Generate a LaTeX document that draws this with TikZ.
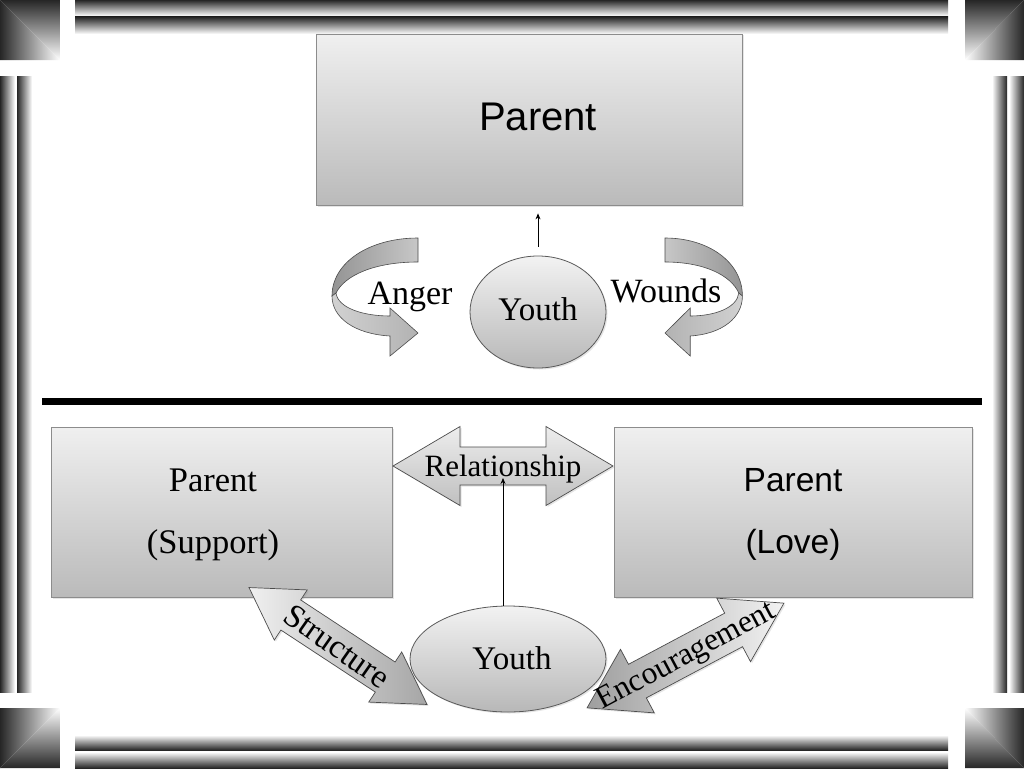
\documentclass[tikz,border=0pt]{standalone}
\usepackage{fontspec}
\setmainfont{Liberation Serif}
\newfontfamily\sansf{Liberation Sans}
\usetikzlibrary{shapes.geometric,shadows,arrows.meta}
\newcommand\uarrow[4]{%
 \path[uband,#3] ({#1},238) .. controls ({#1+#2*48},238) and ({#1+#2*86},262) .. ({#1+#2*86},296) -- ({#1+#2*82},293) .. controls ({#1+#2*73},275) and ({#1+#2*43},262) .. ({#1},262) -- cycle;
 \path[uband,#4] ({#1+#2*82},293) .. controls ({#1+#2*80},308) and ({#1+#2*55},316) .. ({#1+#2*28},316) -- ({#1+#2*28},308) -- ({#1},333) -- ({#1+#2*28},356) -- ({#1+#2*28},336) .. controls ({#1+#2*63},334) and ({#1+#2*86},318) .. ({#1+#2*86},296) -- cycle;}
\newcommand\blockarrow[8]{%
 \begin{scope}[shift={(#1,#2)}, rotate=#3]
 \path[#8] (-#4,0) -- ({-#4+#5},-#6) -- ({-#4+#5},-#7) -- ({#4-#5},-#7) -- ({#4-#5},-#6) -- (#4,0) -- ({#4-#5},#6) -- ({#4-#5},#7) -- ({-#4+#5},#7) -- ({-#4+#5},#6) -- cycle;
 \end{scope}}
\begin{document}
\begin{tikzpicture}[x=1pt,y=-1pt,
  softshadow/.style={drop shadow={opacity=0.2,shadow xshift=1.5pt,shadow yshift=-1.5pt}},
  box/.style={rectangle, draw=black!45, line width=0.8pt, top color=black!6, bottom color=black!27, inner sep=0pt, softshadow},
  ell/.style={ellipse, draw=black!65, line width=0.8pt, top color=black!5, bottom color=black!28, inner sep=0pt, softshadow},
  uband/.style={draw=black!70, line width=0.6pt},
  blockarr/.style={draw=black!70, line width=0.7pt, drop shadow={opacity=0.2,shadow xshift=1.5pt,shadow yshift=-1.5pt}},
  thinarrow/.style={line width=0.8pt, -{Stealth[length=6pt,width=5pt]}},
  serif/.style={font=\fontsize{#1}{#1}\selectfont, inner sep=0pt},
  sans/.style={font=\sansf\fontsize{#1}{#1}\selectfont, inner sep=0pt}
]
\useasboundingbox (0,0) rectangle (1024,768);
\fill[white] (0,0) rectangle (1024,768);
% ---- frame corners ----
\shade[top color=black!85, bottom color=white] (0,0) -- (60,0) -- (60,60) -- cycle;
\shade[left color=black!85, right color=white] (0,0) -- (0,60) -- (60,60) -- cycle;
\shade[top color=black!85, bottom color=white] (965,0) -- (1024,0) -- (965,60) -- cycle;
\shade[left color=white, right color=black!85] (1024,0) -- (1024,60) -- (965,60) -- cycle;
\shade[left color=black!85, right color=white] (0,708) -- (0,768) -- (60,708) -- cycle;
\shade[top color=white, bottom color=black!85] (0,768) -- (60,768) -- (60,708) -- cycle;
\shade[left color=white, right color=black!85] (965,708) -- (1024,708) -- (1024,768) -- cycle;
\shade[top color=white, bottom color=black!85] (965,708) -- (965,768) -- (1024,768) -- cycle;
% ---- frame bars ----
\shade[top color=black!85, bottom color=white] (75,0) rectangle (948,16);
\shade[top color=black!85, bottom color=white] (75,17) rectangle (948,34);
\shade[top color=white, bottom color=black!85] (75,735) rectangle (948,750);
\shade[top color=white, bottom color=black!85] (75,752) rectangle (948,768);
\shade[left color=black!85, right color=white] (0,76) rectangle (15,692);
\shade[left color=black!85, right color=white] (17,76) rectangle (32,692);
\shade[left color=white, right color=black!85] (992,76) rectangle (1007,692);
\shade[left color=white, right color=black!85] (1009,76) rectangle (1024,692);
% ---- top part ----
\node[box, minimum width=426pt, minimum height=171pt] (p1) at (529,119.5) {};
\node[sans=40, anchor=base] (p1t) at (538,130) {Parent};
\node[ell, minimum width=136pt, minimum height=112pt] (y1) at (538,312) {};
\node[serif=33, anchor=base] (y1t) at (538,320) {Youth};
\draw[thinarrow, shorten <=9pt, shorten >=8pt] (y1.north) -- (y1.north |- p1.south);
\uarrow{418}{-1}{left color=black!42, right color=black!22}{left color=black!18, right color=black!30}
\uarrow{665}{0.9}{left color=black!22, right color=black!42}{left color=black!30, right color=black!18}
\node[serif=34, anchor=base] (anger) at (410,304) {Anger};
\node[serif=34, anchor=base] (wounds) at (666,302) {Wounds};
% ---- separator ----
\draw[line width=7pt] (42,401) -- (982,401);
% ---- bottom part ----
\node[box, minimum width=341pt, minimum height=170pt] (p2) at (221.5,512) {};
\node[serif=34.5, anchor=base] (p2a) at (213,491) {Parent};
\node[serif=34.5, anchor=base] (p2b) at (213,553) {(Support)};
\node[box, minimum width=358pt, minimum height=170pt] (p3) at (793,512) {};
\node[sans=33.5, anchor=base] (p3a) at (793,491) {Parent};
\node[sans=33.5, anchor=base] (p3b) at (793,553) {(Love)};
\blockarrow{503}{466}{0}{110}{67}{39.5}{19}{blockarr, top color=black!7, bottom color=black!25}
\node[serif=31, anchor=base] (rel) at (503,476) {Relationship};
\node[ell, minimum width=196pt, minimum height=106pt] (y2) at (508,659) {};
\node[serif=33, anchor=base] (y2t) at (512,669) {Youth};
\coordinate (relc) at (503,478);
\draw[thinarrow] (y2.north -| relc) -- (relc);
\blockarrow{338}{646}{-33.3}{106.5}{50}{30}{18}{blockarr, left color=black!6, right color=black!35}
\node[serif=33, rotate=-35] (struct) at (337,646) {Structure};
\blockarrow{685.5}{655.5}{28}{111.5}{57}{36}{19}{blockarr, left color=black!38, right color=black!5}
\node[serif=31.5, rotate=28] (enc) at (687,657) {Encouragement};
\end{tikzpicture}
\end{document}
